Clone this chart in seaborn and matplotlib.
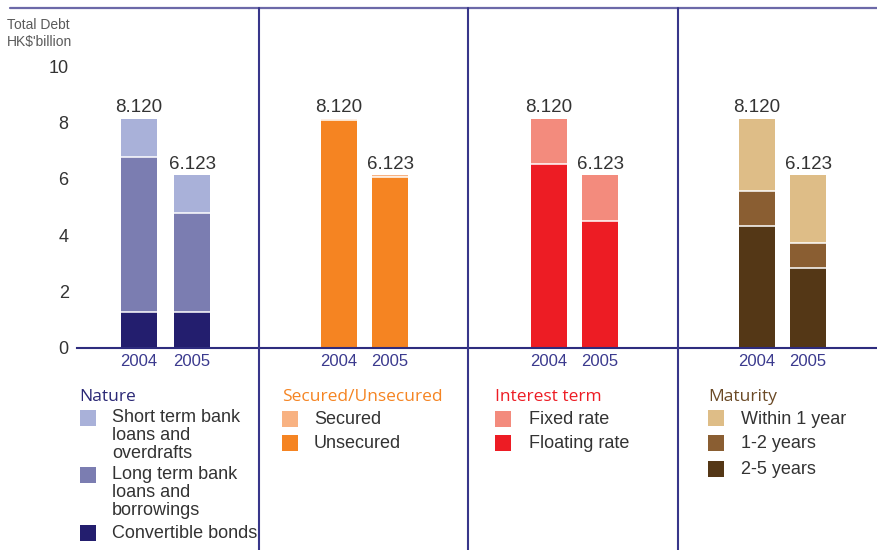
import matplotlib
matplotlib.use('Agg')
import matplotlib.pyplot as plt
import seaborn as sns
from matplotlib.patches import Rectangle
from matplotlib.lines import Line2D

# ---------------- data ----------------
years = ['2004', '2005']
total_labels = ['8.120', '6.123']

nature_title = 'Nature'
nature_labels = ['Short term bank\nloans and\noverdrafts', 'Long term bank\nloans and\nborrowings', 'Convertible bonds']
nature_short = [1.34, 1.333]
nature_long = [5.51, 3.52]
nature_conv = [1.27, 1.27]

secured_title = 'Secured/Unsecured'
secured_labels = ['Secured', 'Unsecured']
secured = [0.05, 0.05]
unsecured = [8.07, 6.073]

interest_title = 'Interest term'
interest_labels = ['Fixed rate', 'Floating rate']
fixed = [1.59, 1.623]
floating = [6.53, 4.50]

maturity_title = 'Maturity'
maturity_labels = ['Within 1 year', '1-2 years', '2-5 years']
within1 = [2.54, 2.413]
y1_2 = [1.24, 0.88]
y2_5 = [4.34, 2.83]

yticks = [0, 2, 4, 6, 8, 10]
ytick_labels = ['0', '2', '4', '6', '8', '10']

# ---------------- styling ----------------
sns.set_theme(style='white')
plt.rcParams['font.family'] = ['Liberation Sans', 'DejaVu Sans']

W, H = 877, 550
fig = plt.figure(figsize=(W / 100, H / 100), dpi=100)
fig.patch.set_facecolor('white')

NAVY = '#2E2C7E'
TXT = '#333333'

panels = [
    dict(title=nature_title, tcolor='#2B2876', labels=nature_labels,
         series=[nature_short, nature_long, nature_conv],
         colors=['#A9B1D9', '#7B7DB1', '#231E6E'],
         px=(77, 259.3), c0=139, unit=53),
    dict(title=secured_title, tcolor='#F58422', labels=secured_labels,
         series=[secured, unsecured],
         colors=['#F8B282', '#F58422'],
         px=(259.3, 467.7), c0=339, unit=51),
    dict(title=interest_title, tcolor='#ED1C24', labels=interest_labels,
         series=[fixed, floating],
         colors=['#F38B7D', '#ED1C24'],
         px=(467.7, 678.3), c0=549, unit=51),
    dict(title=maturity_title, tcolor='#6B4A26', labels=maturity_labels,
         series=[within1, y1_2, y2_5],
         colors=['#DEBD87', '#8A5E32', '#543716'],
         px=(678.3, 877), c0=757, unit=51),
]

BASE_Y = 348
PX_PER_UNIT = 28.2
BAR_PX = 36

for k, p in enumerate(panels):
    left, right = p['px']
    ax = fig.add_axes([left / W, (H - BASE_Y) / H, (right - left) / W, 10 * PX_PER_UNIT / H])
    ax.set_facecolor('none')
    width = BAR_PX / p['unit']
    bottom_first = list(reversed(p['series']))
    cols_bottom_first = list(reversed(p['colors']))
    cums = []
    run = [0.0, 0.0]
    for s in bottom_first:
        run = [run[i] + s[i] for i in range(2)]
        cums.append(list(run))
    for j in range(len(cums) - 1, -1, -1):
        sns.barplot(x=years, y=cums[j], color=cols_bottom_first[j], width=width,
                    saturation=1, errorbar=None, ax=ax, linewidth=0)
    ax.bar_label(ax.containers[0], labels=total_labels, padding=2,
                 fontsize=13.5, color=TXT)
    for cont in ax.containers[1:]:
        for patch in cont.patches:
            x0 = patch.get_x()
            x1 = x0 + patch.get_width()
            yt = patch.get_height()
            ax.plot([x0, x1], [yt, yt], color='white', lw=1.1, solid_capstyle='butt')
    ax.set_xlim((left - p['c0']) / p['unit'], (right - p['c0']) / p['unit'])
    ax.set_ylim(0, 10)
    ax.set_xlabel('')
    ax.set_ylabel('')
    for s in ['top', 'right', 'left']:
        ax.spines[s].set_visible(False)
    ax.spines['bottom'].set_color(NAVY)
    ax.spines['bottom'].set_linewidth(1.5)
    ax.tick_params(axis='x', length=0, pad=4, labelsize=12, labelcolor='#3B3A8E')
    if k == 0:
        ax.set_yticks(yticks)
        ax.set_yticklabels(ytick_labels)
        ax.tick_params(axis='y', length=0, pad=6, labelsize=13, labelcolor=TXT)
    else:
        ax.set_yticks([])

    tx = {0: 79, 1: 282, 2: 495, 3: 708}[k]
    fig.text(tx / W, 1 - 397 / H, p['title'], color=p['tcolor'], fontsize=12.5,
             family=['Open Sans', 'DejaVu Sans'], va='center', ha='left')

legend_rows = [
    [(410, 409), (467, 466), (525, 534)],
    [(411, 419), (435, 443)],
    [(411, 419), (435, 443)],
    [(410, 419), (435, 443), (461, 469)],
]
for k, p in enumerate(panels):
    sx = {0: 80, 1: 282, 2: 495, 3: 708}[k]
    txx = {0: 112, 1: 314, 2: 529, 3: 741}[k]
    for (sy, ty), lab, col in zip(legend_rows[k], p['labels'], p['colors']):
        fig.add_artist(Rectangle((sx / W, 1 - (sy + 16) / H), 16 / W, 16 / H,
                                 transform=fig.transFigure, color=col, lw=0))
        if '\n' in lab:
            fig.text(txx / W, 1 - ty / H, lab, color=TXT, fontsize=13,
                     va='top', ha='left', linespacing=1.08)
        else:
            fig.text(txx / W, 1 - ty / H, lab, color=TXT, fontsize=13,
                     va='center', ha='left')

fig.text(7 / W, 1 - 25 / H, "Total Debt", color='#5A5A5A', fontsize=10,
         va='center', ha='left')
fig.text(7 / W, 1 - 42 / H, "HK$'billion", color='#5A5A5A', fontsize=10,
         va='center', ha='left')

fig.add_artist(Line2D([10 / W, 1], [1 - 8 / H, 1 - 8 / H], transform=fig.transFigure,
                      color='#6C69A8', lw=1.6))
for sx in [259.3, 467.7, 678.3]:
    fig.add_artist(Line2D([sx / W, sx / W], [1 - 8 / H, 0], transform=fig.transFigure,
                          color='#38368A', lw=1.5))

fig.savefig('out.png', dpi=100, facecolor='white')
